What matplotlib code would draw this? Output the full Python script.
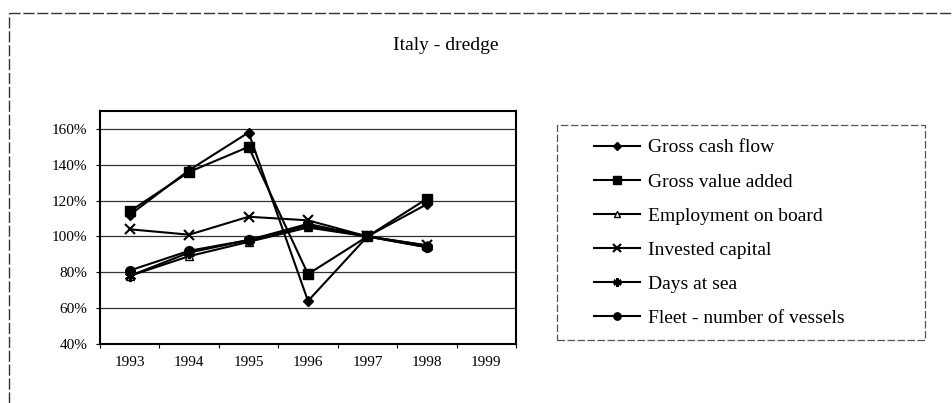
import matplotlib
matplotlib.use("Agg")
import matplotlib.pyplot as plt
from matplotlib.ticker import PercentFormatter, FixedLocator
from matplotlib.lines import Line2D
from matplotlib.patches import Rectangle

# data (share of 1997 level)
years = ["1993", "1994", "1995", "1996", "1997", "1998", "1999"]
gross_cash_flow = [1.12, 1.37, 1.58, 0.64, 1.00, 1.18]
gross_value_added = [1.14, 1.36, 1.50, 0.79, 1.00, 1.21]
employment = [0.78, 0.89, 0.97, 1.05, 1.00, 0.95]
invested_capital = [1.04, 1.01, 1.11, 1.09, 1.00, 0.95]
days_at_sea = [0.78, 0.91, 0.98, 1.07, 1.00, 0.94]
fleet = [0.81, 0.92, 0.98, 1.06, 1.00, 0.94]

plt.rcParams['font.family'] = ['Liberation Serif', 'DejaVu Serif']

fig = plt.figure(figsize=(9.53, 4.03), dpi=100)
ax = fig.add_axes([100/953, 1-344/403, 416/953, 233/403])

x = list(range(len(gross_cash_flow)))
series = [
    ("Gross cash flow", gross_cash_flow, dict(marker='D', ms=5, mfc='black')),
    ("Gross value added", gross_value_added, dict(marker='s', ms=7, mfc='black')),
    ("Employment on board", employment, dict(marker='^', ms=6, mfc='white')),
    ("Invested capital", invested_capital, dict(marker='x', ms=7, mew=1.5)),
    ("Days at sea", days_at_sea, dict(marker=(6, 2, 0), ms=8, mew=1.8)),
    ("Fleet - number of vessels", fleet, dict(marker='o', ms=7, mfc='black')),
]
handles = []
for name, vals, st in series:
    h, = ax.plot(x, vals, color='black', lw=1.5, mec='black', label=name, **st)
    handles.append(h)

ax.set_xlim(-0.5, 6.5)
ax.set_ylim(0.40, 1.70)
ax.set_yticks([0.4, 0.6, 0.8, 1.0, 1.2, 1.4, 1.6])
ax.yaxis.set_major_formatter(PercentFormatter(1.0, decimals=0))
ax.set_xticks(range(len(years)))
ax.set_xticklabels(years)
ax.xaxis.set_minor_locator(FixedLocator([i - 0.5 for i in range(len(years) + 1)]))
ax.tick_params(axis='x', which='major', length=0, pad=9, labelsize=11)
ax.tick_params(axis='x', which='minor', length=3, width=0.8)
ax.tick_params(axis='y', length=3, width=0.8, pad=6, labelsize=11)
ax.grid(axis='y', color='#333333', lw=0.9)
ax.set_axisbelow(True)
for s in ax.spines.values():
    s.set_linewidth(1.5)

fig.text(446/953, 1-45/403, "Italy - dredge", ha='center', va='center', fontsize=14)

# legend frame
fig.add_artist(Rectangle((557/953, 1-340/403), 368/953, 215/403,
                         transform=fig.transFigure, fill=False,
                         edgecolor='#555555', lw=0.9, ls=(0, (6, 2))))
fig.legend(handles=handles, loc='upper left', bbox_to_anchor=(586/953, 1-131/403),
           frameon=False, fontsize=14, handlelength=2.4, handletextpad=0.4,
           labelspacing=0.85, borderaxespad=0, markerscale=0.75)

# outer chart frame
fig.add_artist(Line2D([9/953, 1], [1-13/403, 1-13/403], color='#333333', lw=1, ls=(0, (8, 2))))
fig.add_artist(Line2D([9/953, 9/953], [0, 1-13/403], color='#333333', lw=1, ls=(0, (8, 2))))

fig.savefig("out.png", dpi=100)
